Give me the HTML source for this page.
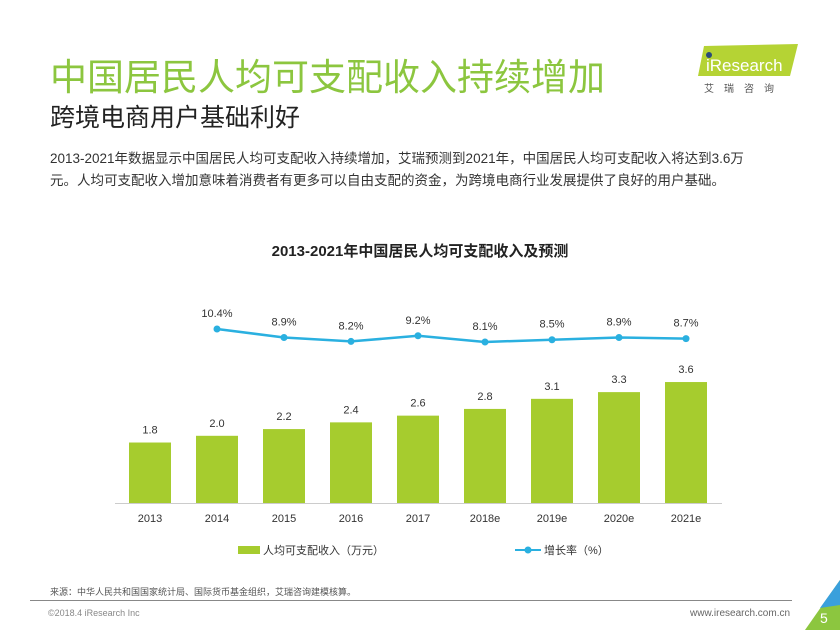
<!DOCTYPE html>
<html><head><meta charset="utf-8"><style>
body{margin:0;width:840px;height:630px;background:#fff;font-family:"Liberation Sans","Noto Sans CJK SC",sans-serif;position:relative;overflow:hidden}
.a{position:absolute;white-space:nowrap}
</style></head><body>
<div class="a" style="left:50px;top:47px;font-size:37px;color:#8cc63f">中国居民人均可支配收入持续增加</div>
<div class="a" style="left:50px;top:98px;font-size:25px;color:#222">跨境电商用户基础利好</div>
<div class="a" style="left:50px;top:148px;font-size:13.5px;color:#333;line-height:22px">2013-2021年数据显示中国居民人均可支配收入持续增加，艾瑞预测到2021年，中国居民人均可支配收入将达到3.6万<br>元。人均可支配收入增加意味着消费者有更多可以自由支配的资金，为跨境电商行业发展提供了良好的用户基础。</div>
<svg class="a" style="left:690px;top:40px" width="110" height="55">
<polygon points="14,6 108,4 100,36 8,36" fill="#b5d334"/>
<circle cx="19" cy="15" r="3" fill="#2a4a7a"/>
<text x="16" y="31" font-size="17" fill="#fff" font-family="Liberation Sans">iResearch</text>
<text x="14" y="52" font-size="10" fill="#555" letter-spacing="10" font-family="Noto Sans CJK SC">艾瑞咨询</text>
</svg>
<div class="a" style="left:0;width:840px;text-align:center;top:240px;font-size:15px;font-weight:bold;color:#222">2013-2021年中国居民人均可支配收入及预测</div>
<svg id="c" class="a" style="left:0;top:0" width="840" height="630"></svg>
<div class="a" style="left:50px;top:585px;font-size:9px;color:#555">来源：中华人民共和国国家统计局、国际货币基金组织，艾瑞咨询建模核算。</div>
<div class="a" style="left:30px;top:600px;width:762px;border-top:1px solid #888"></div>
<div class="a" style="left:48px;top:608px;font-size:9px;color:#888">©2018.4 iResearch Inc</div>
<div class="a" style="left:690px;top:608px;font-size:10px;color:#666">www.iresearch.com.cn</div>
<svg class="a" style="left:800px;top:580px" width="40" height="50"><polygon points="40,0 40,50 5,50" fill="#8cc63f"/><polygon points="40,0 40,25 20,28" fill="#3aa0dc"/><text x="20" y="43" font-size="14" fill="#fff">5</text></svg>
<script>
const categories=["2013","2014","2015","2016","2017","2018e","2019e","2020e","2021e"];
const income=[1.8,2.0,2.2,2.4,2.6,2.8,3.1,3.3,3.6];
const growth=[null,10.4,8.9,8.2,9.2,8.1,8.5,8.9,8.7];
const svg=document.getElementById('c');const NS='http://www.w3.org/2000/svg';
const x=i=>150+i*67, yb=v=>503-v*33.6, yl=v=>329+(10.4-v)*5.65;
function mk(t,a,txt){const e=document.createElementNS(NS,t);for(const k in a)e.setAttribute(k,a[k]);if(txt!=null)e.textContent=txt;svg.appendChild(e);return e;}
mk('line',{x1:115,x2:722,y1:503.5,y2:503.5,stroke:'#ccc'});
categories.forEach((c,i)=>{
 const b=mk('rect',{x:x(i)-21,y:yb(income[i]),width:42,height:503-yb(income[i]),fill:'#a6cc2e'});
 
 
 mk('text',{x:x(i),y:yb(income[i])-9,'text-anchor':'middle','font-size':11,fill:'#333'},income[i].toFixed(1));
 mk('text',{x:x(i),y:522,'text-anchor':'middle','font-size':11,fill:'#333'},c);
});
let pts=[];growth.forEach((g,i)=>{if(g!=null)pts.push(x(i)+','+yl(g));});
const pl=mk('polyline',{points:pts.join(' '),fill:'none',stroke:'#2ab0e0','stroke-width':2.5});


growth.forEach((g,i)=>{if(g==null)return;
 const p=mk('circle',{cx:x(i),cy:yl(g),r:3.5,fill:'#2ab0e0'});
 
 
 mk('text',{x:x(i),y:yl(g)-12,'text-anchor':'middle','font-size':11,fill:'#333'},g.toFixed(1)+'%');});
mk('rect',{x:238,y:546,width:22,height:8,fill:'#a6cc2e'});
const l1=mk('text',{x:263,y:554,'font-size':11,fill:'#333'},'人均可支配收入（万元）');

mk('line',{x1:515,x2:541,y1:550,y2:550,stroke:'#2ab0e0','stroke-width':2});
mk('circle',{cx:528,cy:550,r:3.5,fill:'#2ab0e0'});
const l2=mk('text',{x:544,y:554,'font-size':11,fill:'#333'},'增长率（%）');

</script>
</body></html>
